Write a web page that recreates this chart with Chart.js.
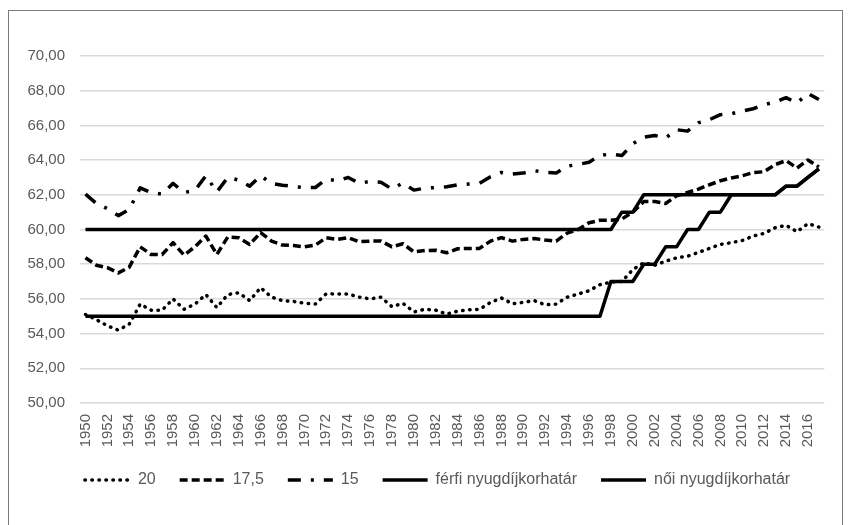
<!DOCTYPE html>
<html>
<head>
<meta charset="utf-8">
<script src="https://cdn.jsdelivr.net/npm/chart.js@4.4.1/dist/chart.umd.min.js"></script>
<style>
  html, body { margin: 0; padding: 0; background: #fff; }
  #wrap { position: relative; width: 848px; height: 525px; }
  #frame { position: absolute; left: 8px; top: 10px; width: 835px; height: 520px;
           border: 1px solid #7a7a7a; border-bottom: none; box-sizing: border-box; pointer-events: none; }
</style>
</head>
<body>
<div id="wrap">
  <canvas id="nyugdij" width="848" height="525"></canvas>
  <div id="frame"></div>
</div>
<script>
// evek 1950-2017
const years = [];
for (let y = 1950; y <= 2017; y++) years.push(String(y));

const yTicks = [50, 52, 54, 56, 58, 60, 62, 64, 66, 68, 70];

// varhato elettartam alapjan szamolt korhatarok
const s20 = [
  55.10, 54.80, 54.45, 54.20, 54.55, 55.70, 55.35, 55.35, 56.00, 55.40,
  55.70, 56.25, 55.50, 56.25, 56.35, 55.90, 56.65, 56.10, 55.90, 55.85,
  55.75, 55.70, 56.30, 56.28, 56.28, 56.10, 56.00, 56.10, 55.55, 55.75,
  55.25, 55.40, 55.35, 55.12, 55.30, 55.37, 55.40, 55.80, 56.05, 55.72,
  55.80, 55.90, 55.66, 55.70, 56.10, 56.28, 56.47, 56.82, 56.97, 57.00,
  57.69, 58.08, 57.94, 58.17, 58.37, 58.46, 58.68, 58.91, 59.14, 59.24,
  59.37, 59.62, 59.78, 60.10, 60.24, 59.87, 60.34, 60.14
];
const s175 = [
  58.37, 57.94, 57.80, 57.50, 57.83, 59.00, 58.56, 58.56, 59.24, 58.52,
  59.00, 59.62, 58.56, 59.57, 59.53, 59.14, 59.82, 59.33, 59.10, 59.08,
  59.00, 59.10, 59.53, 59.43, 59.53, 59.30, 59.33, 59.33, 59.00, 59.18,
  58.71, 58.79, 58.80, 58.66, 58.89, 58.91, 58.91, 59.33, 59.53, 59.33,
  59.43, 59.48, 59.39, 59.33, 59.79, 60.00, 60.39, 60.53, 60.53, 60.60,
  61.00, 61.61, 61.61, 61.50, 61.94, 62.13, 62.33, 62.58, 62.81, 62.97,
  63.10, 63.28, 63.33, 63.74, 63.97, 63.54, 64.01, 63.60
];
const s15 = [
  62.04, 61.50, 61.20, 60.80, 61.16, 62.40, 62.13, 62.04, 62.66, 62.13,
  62.25, 63.10, 62.16, 63.00, 62.85, 62.50, 63.10, 62.65, 62.55, 62.48,
  62.42, 62.42, 62.90, 62.81, 63.00, 62.66, 62.77, 62.72, 62.33, 62.68,
  62.27, 62.38, 62.42, 62.46, 62.58, 62.62, 62.66, 63.04, 63.29, 63.19,
  63.25, 63.39, 63.29, 63.25, 63.65, 63.75, 63.88, 64.26, 64.36, 64.26,
  64.94, 65.32, 65.42, 65.28, 65.75, 65.67, 66.15, 66.33, 66.62, 66.67,
  66.83, 66.96, 67.19, 67.35, 67.60, 67.29, 67.84, 67.49
];
// torvenyi korhatarok
const ferfi = [
  60, 60, 60, 60, 60, 60, 60, 60, 60, 60,
  60, 60, 60, 60, 60, 60, 60, 60, 60, 60,
  60, 60, 60, 60, 60, 60, 60, 60, 60, 60,
  60, 60, 60, 60, 60, 60, 60, 60, 60, 60,
  60, 60, 60, 60, 60, 60, 60, 60, 60, 61,
  61, 62, 62, 62, 62, 62, 62, 62, 62, 62,
  62, 62, 62, 62, 62.5, 62.5, 63, 63.5
];
const noi = [
  55, 55, 55, 55, 55, 55, 55, 55, 55, 55,
  55, 55, 55, 55, 55, 55, 55, 55, 55, 55,
  55, 55, 55, 55, 55, 55, 55, 55, 55, 55,
  55, 55, 55, 55, 55, 55, 55, 55, 55, 55,
  55, 55, 55, 55, 55, 55, 55, 55, 57, 57,
  57, 58, 58, 59, 59, 60, 60, 61, 61, 62,
  62, 62, 62, 62, 62.5, 62.5, 63, 63.5
];

const FONT = "'Liberation Sans', Arial, sans-serif";
const TXT = '#595959';

function line(label, data, width, dash, cap) {
    return {
        label: label,
        data: data,
        borderColor: '#000',
        backgroundColor: '#000',
        borderWidth: width,
        borderDash: dash,
        borderCapStyle: cap,
        borderJoinStyle: 'round',
        pointRadius: 0,
        pointHoverRadius: 0,
        tension: 0,
        fill: false
    };
}

// a legenda kozepet egy kicsit jobbra toljuk, mint az eredetin
const shiftLegend = {
    id: 'shiftLegend',
    afterLayout(chart) {
        chart.legend.left += 11;
        chart.legend.right += 11;
    }
};

new Chart('nyugdij', {
    type: 'line',
    data: {
        labels: years,
        datasets: [
            line('20', s20, 3.5, [0.5, 6.5], 'round'),
            line('17,5', s175, 3.5, [8, 4], 'butt'),
            line('15', s15, 3.5, [13, 10, 3, 10], 'butt'),
            line('férfi nyugdíjkorhatár', ferfi, 3.5, [], 'butt'),
            line('női nyugdíjkorhatár', noi, 3.5, [], 'butt')
        ]
    },
    plugins: [shiftLegend],
    options: {
        responsive: false,
        animation: false,
        layout: { padding: { left: 20, right: 15, top: 56, bottom: 27 } },
        plugins: {
            tooltip: { enabled: false },
            legend: {
                position: 'bottom',
                labels: {
                    usePointStyle: true,
                    pointStyle: 'line',
                    pointStyleWidth: 45,
                    boxHeight: 16,
                    padding: 24,
                    color: TXT,
                    font: { family: FONT, size: 16 },
                    generateLabels: function(chart) {
                        return chart.data.datasets.map((ds, i) => ({
                            text: ds.label,
                            fillStyle: '#000',
                            strokeStyle: '#000',
                            lineWidth: ds.borderWidth,
                            lineDash: ds.borderDash,
                            lineCap: ds.borderCapStyle,
                            pointStyle: 'line',
                            fontColor: TXT,
                            hidden: false,
                            datasetIndex: i
                        }));
                    }
                }
            }
        },
        scales: {
            x: {
                offset: true,
                grid: { display: false, drawTicks: false },
                border: { display: false },
                afterFit: function(scale) { scale.height = 45; },
                ticks: {
                    autoSkip: false,
                    maxRotation: 90,
                    minRotation: 90,
                    padding: 11,
                    color: TXT,
                    font: { family: FONT, size: 15 },
                    callback: function(v, i) { return i % 2 === 0 ? years[i] : ''; }
                }
            },
            y: {
                min: yTicks[0],
                max: yTicks[yTicks.length - 1],
                afterFit: function(scale) { scale.width = 60; },
                afterBuildTicks: function(scale) { scale.ticks = yTicks.map(v => ({ value: v })); },
                grid: { color: '#d9d9d9', lineWidth: 1.5, drawTicks: false },
                border: { display: false },
                ticks: {
                    padding: 15,
                    color: TXT,
                    font: { family: FONT, size: 15 },
                    callback: function(v) { return v.toFixed(2).replace('.', ','); }
                }
            }
        }
    }
});
</script>
</body>
</html>
